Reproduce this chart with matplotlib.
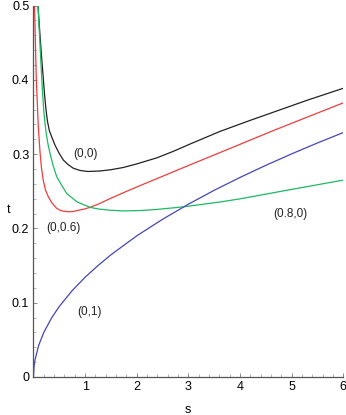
import matplotlib
matplotlib.use("Agg")
import matplotlib.pyplot as plt
from matplotlib.ticker import MultipleLocator

# ======= Curves (s, t) =======
s_00 = [0.087, 0.126, 0.155, 0.184, 0.213, 0.242, 0.271, 0.306, 0.359, 0.417, 0.494,
        0.578, 0.669, 0.771, 0.90, 1.056, 1.289, 1.5, 1.74, 2.0, 2.39, 2.7, 3.03,
        3.61, 4.2, 4.71, 5.3, 6.0]
t_00 = [0.500, 0.460, 0.432, 0.407, 0.381, 0.360, 0.344, 0.332, 0.322, 0.312, 0.3015,
        0.292, 0.286, 0.281, 0.278, 0.2766, 0.2773, 0.279, 0.282, 0.2868, 0.295, 0.3035, 0.3135,
        0.3305, 0.3455, 0.358, 0.3725, 0.3886]

s_006 = [0.02, 0.054, 0.078, 0.093, 0.126, 0.155, 0.19, 0.233, 0.287, 0.359, 0.45, 0.533,
         0.643, 0.766, 0.90, 1.0, 1.095, 1.25, 1.48, 1.74, 2.06, 2.39, 3.03, 3.61, 4.71, 6.0]
t_006 = [0.500, 0.401, 0.362, 0.337, 0.303, 0.281, 0.2645, 0.2515, 0.2427, 0.234, 0.227, 0.2238,
         0.2225, 0.2227, 0.2248, 0.2263, 0.2284, 0.2325, 0.240, 0.248, 0.2575, 0.267, 0.2855,
         0.302, 0.3335, 0.369]

s_080 = [0.087, 0.12, 0.15, 0.175, 0.2, 0.225, 0.25, 0.285, 0.32, 0.378, 0.45, 0.546, 0.643,
         0.837, 0.95, 1.095, 1.25, 1.48, 1.74, 2.06, 2.39, 2.90, 3.61, 4.0, 5.0, 6.0]
t_080 = [0.500, 0.455, 0.415, 0.383, 0.358, 0.340, 0.326, 0.312, 0.301, 0.285, 0.2696, 0.258,
         0.247, 0.236, 0.2325, 0.2284, 0.2262, 0.2245, 0.2235, 0.224, 0.2255, 0.229, 0.2355,
         0.2398, 0.2525, 0.265]

s_01 = [0, 0.01, 0.03, 0.1, 0.2, 0.35, 0.5, 0.75, 1.0, 1.25, 1.5, 2.0, 2.5, 3.0,
        3.5, 4.0, 4.5, 5.0, 5.5, 6.0]
t_01 = [0, 0.0134, 0.0233, 0.0425, 0.060, 0.0795, 0.095, 0.1163, 0.1343, 0.150, 0.1645,
        0.190, 0.2123, 0.2326, 0.2513, 0.2686, 0.2849, 0.3003, 0.315, 0.329]

labels = ["(0,0)", "(0,0.6)", "(0.8,0)", "(0,1)"]
label_pos = [(1.0, 0.300), (0.578, 0.200), (4.98, 0.220), (1.08, 0.088)]

xticks = [1, 2, 3, 4, 5, 6]
yticks = [0, 0.1, 0.2, 0.3, 0.4, 0.5]
ytick_labels = ["0", "0.1", "0.2", "0.3", "0.4", "0.5"]

# ======= Plot =======
plt.rcParams['font.family'] = ['Liberation Sans', 'DejaVu Sans']
fig = plt.figure(figsize=(3.46, 4.15), dpi=100)
ax = fig.add_axes([0.0968, 0.0916, 0.8954, 0.8951])

lw = 0.9
ax.plot(s_00, t_00, color='#222222', lw=lw)
ax.plot(s_006, t_006, color='#f03c3c', lw=lw)
ax.plot(s_080, t_080, color='#1fb864', lw=lw)
ax.plot(s_01, t_01, color='#4646b4', lw=lw)

for txt, (x, y) in zip(labels, label_pos):
    ax.text(x, y, txt, fontsize=8.5, ha='center', va='center', color='#222222')

ax.set_xlim(0, 6)
ax.set_ylim(0, 0.5)
ax.set_xticks(xticks)
ax.set_xticklabels([str(v) for v in xticks])
ax.set_yticks(yticks)
ax.set_yticklabels(ytick_labels)
ax.xaxis.set_minor_locator(MultipleLocator(0.2))
ax.yaxis.set_minor_locator(MultipleLocator(0.02))

for side in ['top', 'right']:
    ax.spines[side].set_visible(False)
for side in ['left', 'bottom']:
    ax.spines[side].set_color('#555555')
    ax.spines[side].set_linewidth(0.9)

ax.tick_params(axis='both', which='major', labelsize=9, length=3, width=0.6,
               color='#777777', direction='in', pad=3)
ax.tick_params(axis='both', which='minor', length=2, width=0.5,
               color='#999999', direction='in')

ax.set_xlabel("s", fontsize=9, va='center')
ax.set_ylabel("t", fontsize=9, rotation=0, va='center', ha='center')
ax.xaxis.set_label_coords(0.499, -0.089)
ax.yaxis.set_label_coords(-0.082, 0.45)

fig.savefig("out.png", dpi=100)
